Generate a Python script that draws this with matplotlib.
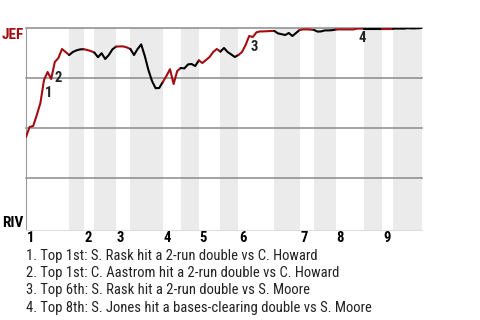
import numpy as np
import matplotlib
matplotlib.use("Agg")
import matplotlib.pyplot as plt

plt.rcParams['font.family'] = ['Roboto Condensed', 'Roboto', 'DejaVu Sans']

# plate appearances per half inning (top 1st, bottom 1st, ...)
half_counts = [12, 4, 3, 6, 4, 9, 5, 5, 6, 5, 10, 7, 4, 6, 8, 5, 3, 8]
# JEF win probability (%) at start and after each plate appearance
jef_wp = [45.5,
          50.5, 51, 56.5, 62.5, 74, 78, 74.5, 83, 85, 89.5, 88, 86.5,
          88, 88.8, 89.3, 89.4,
          89, 88.5, 87.7,
          85.4, 87.4, 84.5, 86.5, 89.3, 90.7,
          90.8, 90.8, 90.3, 89.5,
          86.5, 89.5, 91.8, 86, 79, 73.5, 69.9, 70, 73,
          76, 79.4, 72, 78.5, 80,
          79.8, 81.8, 82, 81, 83.8,
          82.5, 84, 85.5, 88, 89.5, 88.2,
          90, 88, 86.8, 85.5, 86.5,
          88, 91.5, 96, 95.5, 97.8, 98.3, 98.3, 98.4, 98.5, 98.5,
          97.3, 96.9, 96.5, 97.5, 96, 97.5, 99,
          99.3, 99.3, 99.2, 99,
          98.2, 98.3, 98.8, 98.8, 98.9, 99.2,
          99.3, 99.3, 99.3, 99.3, 99.3, 99.7, 99.7, 99.7,
          99.7, 99.7, 99.7, 99.7, 99.7,
          99.7, 99.7, 99.7,
          99.7, 99.7, 99.7, 99.9, 99.8, 99.8, 99.9, 100]
assert len(jef_wp) == sum(half_counts) + 1

innings = ['1', '2', '3', '4', '5', '6', '7', '8', '9']
note_events = [5, 8, 62, 92]
note_labels = ['1', '2', '3', '4']
note_texts = ['1. Top 1st: S. Rask hit a 2-run double vs C. Howard',
              '2. Top 1st: C. Aastrom hit a 2-run double vs C. Howard',
              '3. Top 6th: S. Rask hit a 2-run double vs S. Moore',
              '4. Top 8th: S. Jones hit a bases-clearing double vs S. Moore']
teams = ['JEF', 'RIV']

RED = '#a30d12'
W, H = 480, 320

fig = plt.figure(figsize=(W / 100, H / 100), dpi=100)
ax = fig.add_axes([26 / W, 1 - 230 / H, 396 / W, 202 / H])

bounds = np.concatenate([[0], np.cumsum(half_counts)])
n = bounds[-1]
ax.set_xlim(0, n)
ax.set_ylim(-1, 100)

# shading for bottom halves
for h in range(1, len(half_counts), 2):
    ax.axvspan(bounds[h], bounds[h + 1], color='#ebebeb', lw=0, zorder=0)

for v in [25, 50, 75, 100]:
    ax.axhline(v, color='#8a8a8a', lw=1.1, zorder=1, clip_on=False)

wp = np.array(jef_wp)
for h in range(len(half_counts)):
    xs = np.arange(bounds[h], bounds[h + 1] + 1)
    ax.plot(xs, wp[bounds[h]:bounds[h + 1] + 1], color=RED if h % 2 == 0 else 'black',
            lw=1.5, solid_joinstyle='round', solid_capstyle='round', zorder=3)

# event markers (offsets in pixels)
offs = [(5, -17), (3, -20), (5, -15), (5, -13)]
for ev, lab, off in zip(note_events, note_labels, offs):
    ax.annotate(lab, (ev, wp[ev]), xytext=off, textcoords='offset pixels',
                ha='center', va='baseline', fontsize=10.5, fontweight='bold',
                color='#222222', zorder=4)

ax.set_xticks([])
ax.set_yticks([])
for s in ['top', 'right']:
    ax.spines[s].set_visible(False)
ax.spines['left'].set_color('#9a9a9a')
ax.spines['bottom'].set_color('#dddddd')

def fx(px):
    return px / W

def fy(py):
    return 1 - py / H

fig.text(fx(23.5), fy(39.3), teams[0], ha='right', va='baseline', fontsize=11,
         fontweight='bold', color=RED)
fig.text(fx(23.5), fy(226.7), teams[1], ha='right', va='baseline', fontsize=11,
         fontweight='bold', color='black')

# inning labels at the start of each top half
for i, lab in enumerate(innings):
    xd = bounds[2 * i]
    xp = ax.transData.transform((xd, 0))[0]
    fig.text(fx(xp + 0.5), fy(242), lab, ha='left', va='baseline', fontsize=10.5,
             fontweight='bold', color='black')

for i, t in enumerate(note_texts):
    fig.text(fx(26), fy(260 + 17.2 * i), t, ha='left', va='baseline', fontsize=10.5,
             color='#222222')

fig.savefig('out.png', dpi=100)
